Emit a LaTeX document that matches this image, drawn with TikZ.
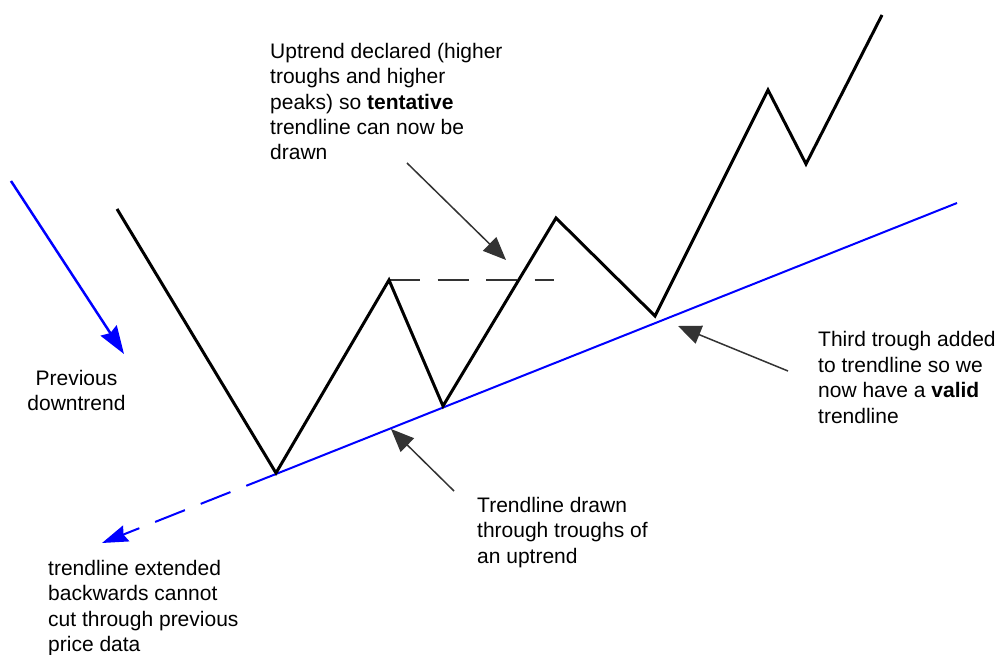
\documentclass[tikz,border=0pt]{standalone}
\usepackage{fontspec}
\setmainfont{Liberation Sans}
\usetikzlibrary{arrows.meta}
\definecolor{callgray}{RGB}{51,51,51}
\definecolor{trendblue}{RGB}{0,0,255}
\begin{document}
\begin{tikzpicture}[x=1pt,y=-1pt,
  price/.style={line width=3pt, line join=miter, black},
  trendline/.style={line width=2pt, trendblue},
  callout/.style={line width=1.5pt, callgray, -{Triangle[length=23pt,width=19pt]}},
  lbl/.style={inner sep=0pt, font=\fontsize{21}{25.4}\selectfont, align=left, anchor=base west},
]
\useasboundingbox (0,0) rectangle (999,655);
% price vertices
\coordinate (p0) at (117,209);
\coordinate (p1) at (276,473);
\coordinate (p2) at (389,280);
\coordinate (p3) at (443,406);
\coordinate (p4) at (556,218);
\coordinate (p5) at (655,316);
\coordinate (p6) at (768,90);
\coordinate (p7) at (806,164);
\coordinate (p8) at (882,15);
\coordinate (d1) at (554,280);
% trendline
\coordinate (t0) at (276,474);
\coordinate (t1) at (957,203);
\coordinate (t2) at (102,543);
% downtrend
\coordinate (a0) at (11,181);
\coordinate (a1) at (124,354);
% callouts
\coordinate (c1s) at (407,163);
\coordinate (c1e) at (506,260);
\coordinate (c2s) at (454,491);
\coordinate (c2e) at (391,429);
\coordinate (c3s) at (788,371);
\coordinate (c3e) at (678,326);

\draw[line width=2pt, callgray, dash pattern=on 31pt off 17.5pt] (p2) -- (d1);
\draw[trendline] (t0) -- (t1);
\draw[trendline, dash pattern=on 32pt off 17pt, -{Stealth[length=26pt,width=17pt,inset=3pt]}] (t0) -- (t2);
\draw[price] (p0) -- (p1) -- (p2) -- (p3) -- (p4) -- (p5) -- (p6) -- (p7) -- (p8);
\draw[line width=2.5pt, trendblue, -{Stealth[length=28pt,width=19pt,inset=3pt]}] (a0) -- (a1);

\draw[callout] (c1s) -- (c1e);
\draw[callout] (c2s) -- (c2e);
\draw[callout] (c3s) -- (c3e);

\node[lbl] (n1) at (270,160) {Uptrend declared (higher\\troughs and higher\\peaks) so \textbf{tentative}\\trendline can now be\\drawn};
\node[lbl, align=center, anchor=base] (n2) at (76.5,410.5) {Previous\\downtrend};
\node[lbl] (n3) at (818,423) {Third trough added\\to trendline so we\\now have a \textbf{valid}\\trendline};
\node[lbl] (n4) at (477,563) {Trendline drawn\\through troughs of\\an uptrend};
\node[lbl] (n5) at (48,651.5) {trendline extended\\backwards cannot\\cut through previous\\price data};
\end{tikzpicture}
\end{document}
